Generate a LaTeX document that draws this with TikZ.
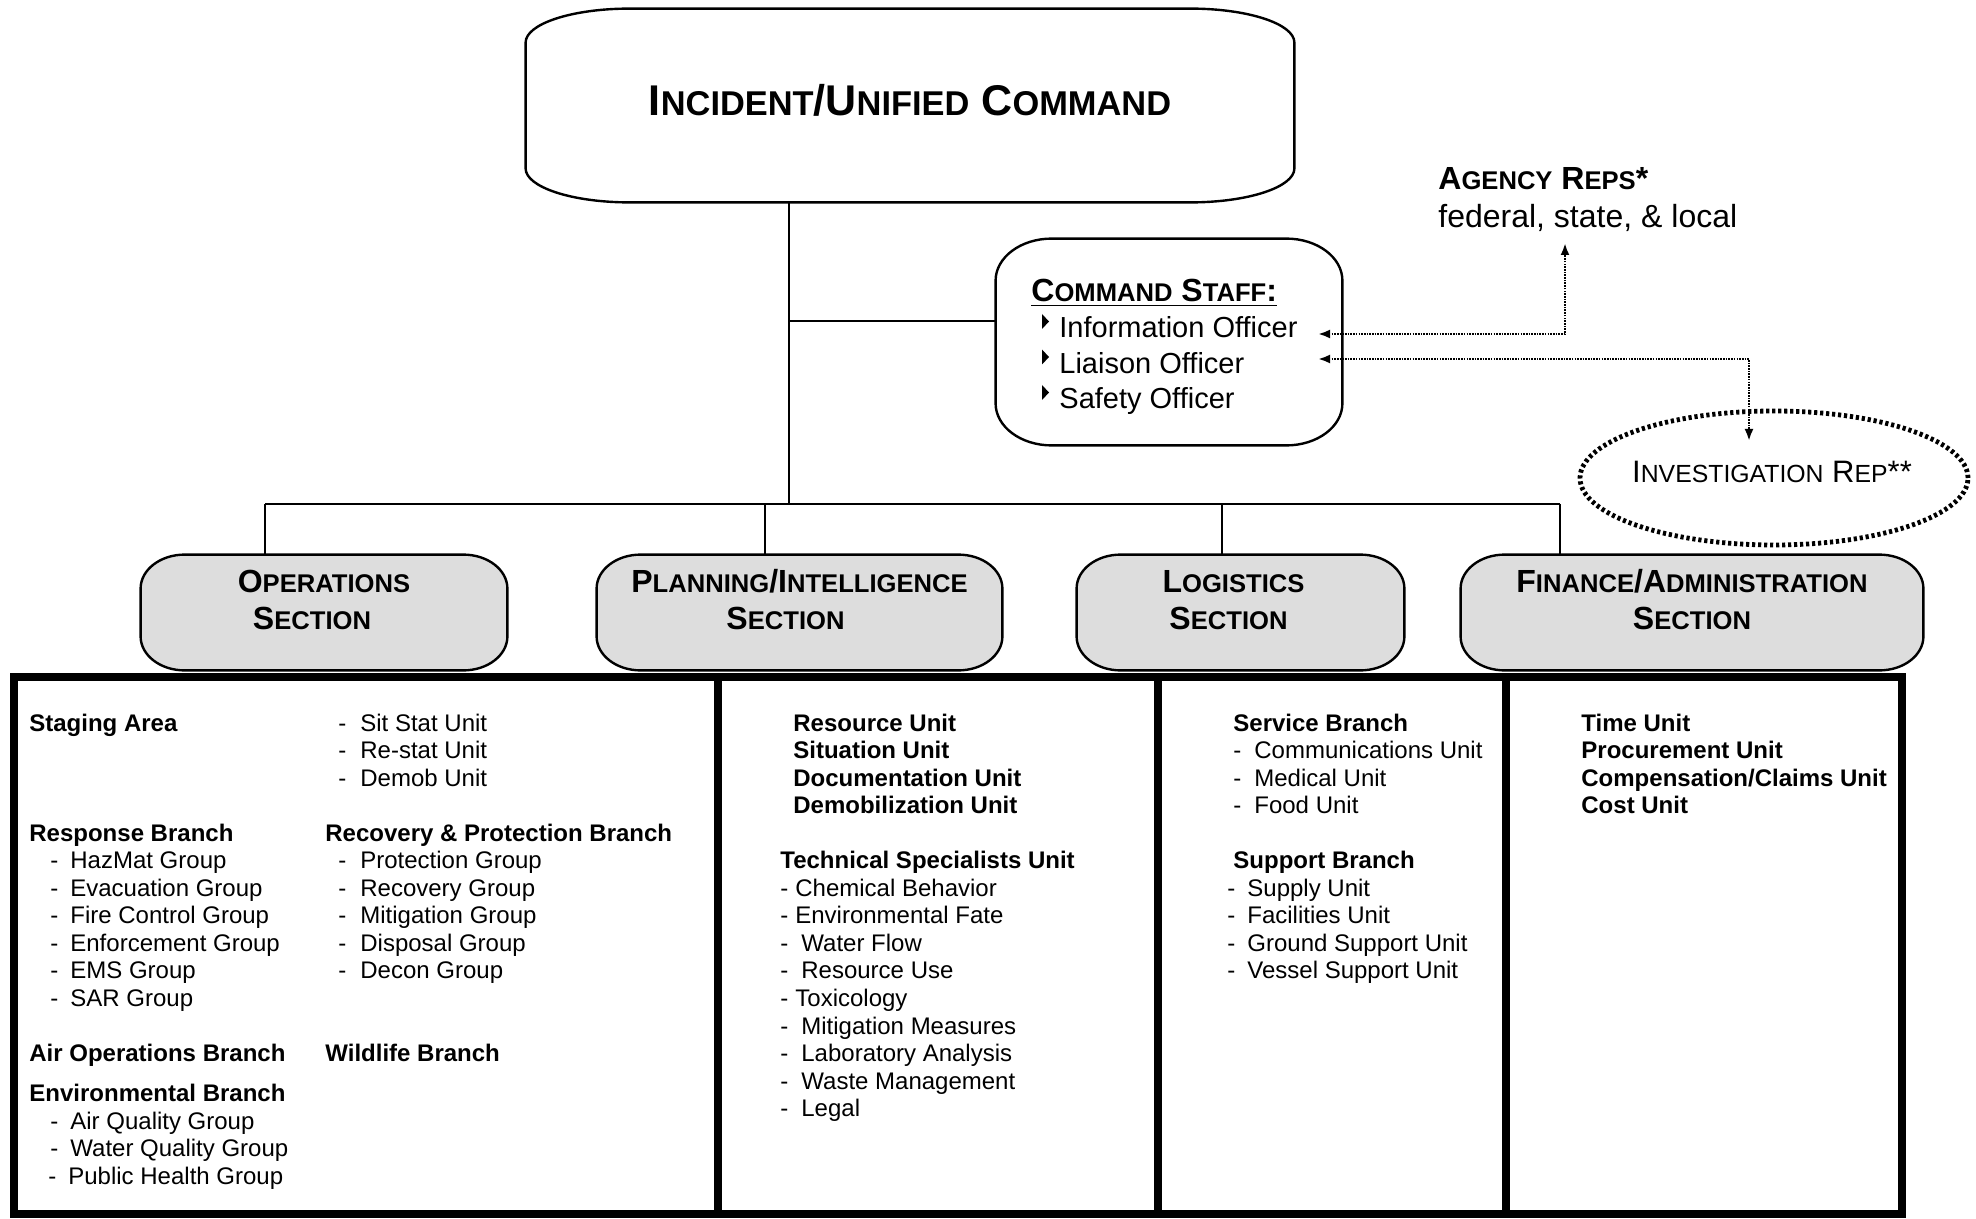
\documentclass[tikz,border=0pt]{standalone}
\usepackage{fontspec}
\setmainfont{Liberation Sans}
\usepackage{graphicx}
\usetikzlibrary{arrows.meta,calc,shapes.geometric}
\pgfdeclarelayer{bg}
\pgfsetlayers{bg,main}
\definecolor{secgray}{HTML}{DDDDDD}
\newcommand\sC[2]{#1\scalebox{0.8}{#2}}
\newcommand\itm[2]{\makebox[#1][l]{-}#2}
% elliptical-corner box around node #1, x radius #2, y radius #3, fill #4
\newcommand\ebox[4]{%
\begin{pgfonlayer}{bg}
\path[boxline,draw,fill=#4] ($(#1.north west)+(#2,0pt)$) -- ($(#1.north east)-(#2,0pt)$)
 arc[start angle=90,end angle=0,x radius=#2,y radius=#3] -- ($(#1.south east)+(0pt,#3)$)
 arc[start angle=0,end angle=-90,x radius=#2,y radius=#3] -- ($(#1.south west)+(#2,0pt)$)
 arc[start angle=270,end angle=180,x radius=#2,y radius=#3] -- ($(#1.north west)-(0pt,#3)$)
 arc[start angle=180,end angle=90,x radius=#2,y radius=#3] -- cycle;
\end{pgfonlayer}}
\tikzset{
 boxline/.style={line width=1.2pt},
 conn/.style={line width=0.9pt},
 tblline/.style={line width=3.8pt},
 txt/.style={inner sep=0pt, anchor=base west, font=\fontsize{12}{13.8}\selectfont},
 btxt/.style={inner sep=0pt, anchor=base west, font=\fontsize{12}{13.8}\selectfont\bfseries},
 sect/.style={inner sep=0pt, minimum height=57.5pt, align=center, text height=30pt, text depth=13.5pt,
   font=\fontsize{16}{18.5}\selectfont\bfseries},
 staffitem/.style={inner sep=0pt, anchor=base west, font=\fontsize{14.5}{17}\selectfont},
 dotarrow/.style={line width=1.2pt, dash pattern=on 0.8pt off 0.55pt,
   {Latex[length=6pt,width=4.5pt]}-{Latex[length=6pt,width=4.5pt]}},
}
\begin{document}
\begin{tikzpicture}[x=0.5pt,y=-0.5pt]
\useasboundingbox (0,0) rectangle (1976,1219);

% ---- Incident / Unified Command
\node[inner sep=0pt, minimum width=384pt, minimum height=96.5pt, text height=15.4pt, text depth=5pt,
  font=\fontsize{21.5}{24}\selectfont\bfseries] (ic) at (910,105.5)
  {\sC{I}{NCIDENT}/\sC{U}{NIFIED} \sC{C}{OMMAND}};
\ebox{ic}{52pt}{17pt}{white}

% ---- Command staff
\node[inner sep=0pt, minimum width=173pt, minimum height=103pt] (staff) at (1169,342) {};
\ebox{staff}{28pt}{21pt}{white}
\node[inner sep=0pt, anchor=base west, font=\fontsize{16}{18}\selectfont\bfseries] (cstitle) at (1031,302)
  {\underline{\sC{C}{OMMAND} \sC{S}{TAFF}:}};
\node[staffitem] (info) at (1059,338) {Information Officer};
\node[staffitem] (liaison) at (1059,373.5) {Liaison Officer};
\node[staffitem] (safety) at (1059,409) {Safety Officer};
\foreach \n in {info,liaison,safety}
  \fill ($(\n.base west)+(-17,-24)$) -- ++(0,15) -- ++(7,-7.5) -- cycle;

% ---- Agency reps
\node[inner sep=0pt, anchor=base west, font=\fontsize{16}{18}\selectfont\bfseries] (agency) at (1438,190)
  {\sC{A}{GENCY} \sC{R}{EPS}*};
\node[inner sep=0pt, anchor=base west, font=\fontsize{16}{18}\selectfont] (agency2) at (1438,228)
  {federal, state, \& local};

% ---- Investigation rep
\node[ellipse, inner sep=0pt, minimum width=194pt, minimum height=67pt,
  line width=2.4pt, dash pattern=on 1.6pt off 1.4pt, draw] (inv) at (1774,478) {};
\node[inner sep=0pt, anchor=base, font=\fontsize{15.5}{18}\selectfont] (invtext) at (1772,482)
  {\sC{I}{NVESTIGATION} \sC{R}{EP}**};

% ---- dotted arrows
\coordinate (t1) at (1318,334);
\coordinate (c1) at (1565,334);
\coordinate (t2) at (1565,243);
\coordinate (t3) at (1318,359);
\coordinate (c2) at (1749,359);
\coordinate (t4) at (1749,441);
\draw[dotarrow] (t1) -- (c1) -- (t2);
\draw[dotarrow] (t3) -- (c2) -- (t4);

% ---- Sections
\node[sect, minimum width=183pt] (ops) at (324,612.5) {\sC{O}{PERATIONS}\\\sC{S}{ECTION}\hspace*{12pt}};
\node[sect, minimum width=202.5pt] (plan) at (799.5,612.5) {\sC{P}{LANNING}/\sC{I}{NTELLIGENCE}\\\sC{S}{ECTION}\hspace*{14pt}};
\node[sect, minimum width=163.5pt] (logi) at (1240.5,612.5) {\sC{L}{OGISTICS}\hspace*{7pt}\\\sC{S}{ECTION}\hspace*{12pt}};
\node[sect, minimum width=231pt] (fin) at (1692,612.5) {\sC{F}{INANCE}/\sC{A}{DMINISTRATION}\\\sC{S}{ECTION}};
\foreach \n in {ops,plan,logi,fin} { \ebox{\n}{22pt}{17pt}{secgray} }

% ---- connectors
\coordinate (jn) at (789,504);
\coordinate (sj) at (789,321);
\coordinate (busL) at (265,504);
\coordinate (busR) at (1560,504);
\coordinate (dP) at (765,504);
\coordinate (dL) at (1222,504);
\draw[conn] (ic.south -| jn) -- (jn);
\draw[conn] (sj) -- (sj -| staff.west);
\draw[line width=1.2pt] (busL) -- (busR);
\draw[conn] (busL) -- (busL |- ops.north);
\draw[conn] (dP) -- (dP |- plan.north);
\draw[conn] (dL) -- (dL |- logi.north);
\draw[conn] (busR) -- (busR |- fin.north);

% ---- table
\draw[tblline] (14,677) rectangle (1902,1214);
\draw[tblline] (718,677) -- (718,1214);
\draw[tblline] (1158,677) -- (1158,1214);
\draw[tblline] (1506,677) -- (1506,1214);

% ---- Operations column
\node[btxt] (staging) at (29,731) {Staging Area};
\node[btxt] (resp) at (29,841.2) {Response Branch};
\node[txt] (r1) at (50,868.75) {\itm{10pt}{HazMat Group}};
\node[txt] (r2) at (50,896.3) {\itm{10pt}{Evacuation Group}};
\node[txt] (r3) at (50,923.85) {\itm{10pt}{Fire Control Group}};
\node[txt] (r4) at (50,951.4) {\itm{10pt}{Enforcement Group}};
\node[txt] (r5) at (50,978.95) {\itm{10pt}{EMS Group}};
\node[txt] (r6) at (50,1006.5) {\itm{10pt}{SAR Group}};
\node[btxt] (airops) at (29,1061.6) {Air Operations Branch};
\node[btxt] (envb) at (29,1101.5) {Environmental Branch};
\node[txt] (e1) at (50,1129) {\itm{10pt}{Air Quality Group}};
\node[txt] (e2) at (50,1156.5) {\itm{10pt}{Water Quality Group}};
\node[txt] (e3) at (48,1184) {\itm{10pt}{Public Health Group}};

\node[txt] (s1) at (338,731) {\itm{11pt}{Sit Stat Unit}};
\node[txt] (s2) at (338,758.55) {\itm{11pt}{Re-stat Unit}};
\node[txt] (s3) at (338,786.1) {\itm{11pt}{Demob Unit}};
\node[btxt] (recov) at (325,841.2) {Recovery \& Protection Branch};
\node[txt] (p1) at (338,868.75) {\itm{11pt}{Protection Group}};
\node[txt] (p2) at (338,896.3) {\itm{11pt}{Recovery Group}};
\node[txt] (p3) at (338,923.85) {\itm{11pt}{Mitigation Group}};
\node[txt] (p4) at (338,951.4) {\itm{11pt}{Disposal Group}};
\node[txt] (p5) at (338,978.95) {\itm{11pt}{Decon Group}};
\node[btxt] (wild) at (325,1061.6) {Wildlife Branch};

% ---- Planning column
\node[btxt] (pu1) at (793,731) {Resource Unit};
\node[btxt] (pu2) at (793,758.55) {Situation Unit};
\node[btxt] (pu3) at (793,786.1) {Documentation Unit};
\node[btxt] (pu4) at (793,813.65) {Demobilization Unit};
\node[btxt] (tech) at (780,868.75) {Technical Specialists Unit};
\node[txt] (t01) at (780,896.3) {\itm{7.5pt}{Chemical Behavior}};
\node[txt] (t02) at (780,923.85) {\itm{7.5pt}{Environmental Fate}};
\node[txt] (t03) at (780,951.4) {\itm{10.5pt}{Water Flow}};
\node[txt] (t04) at (780,978.95) {\itm{10.5pt}{Resource Use}};
\node[txt] (t05) at (780,1006.5) {\itm{7.5pt}{Toxicology}};
\node[txt] (t06) at (780,1034.05) {\itm{10.5pt}{Mitigation Measures}};
\node[txt] (t07) at (780,1061.6) {\itm{10.5pt}{Laboratory Analysis}};
\node[txt] (t08) at (780,1089.15) {\itm{10.5pt}{Waste Management}};
\node[txt] (t09) at (780,1116.7) {\itm{10.5pt}{Legal}};

% ---- Logistics column
\node[btxt] (service) at (1233,731) {Service Branch};
\node[txt] (l1) at (1233,758.55) {\itm{10.5pt}{Communications Unit}};
\node[txt] (l2) at (1233,786.1) {\itm{10.5pt}{Medical Unit}};
\node[txt] (l3) at (1233,813.65) {\itm{10.5pt}{Food Unit}};
\node[btxt] (support) at (1233,868.75) {Support Branch};
\node[txt] (l4) at (1227,896.3) {\itm{10pt}{Supply Unit}};
\node[txt] (l5) at (1227,923.85) {\itm{10pt}{Facilities Unit}};
\node[txt] (l6) at (1227,951.4) {\itm{10pt}{Ground Support Unit}};
\node[txt] (l7) at (1227,978.95) {\itm{10pt}{Vessel Support Unit}};

% ---- Finance column
\node[btxt] (f1) at (1581,731) {Time Unit};
\node[btxt] (f2) at (1581,758.55) {Procurement Unit};
\node[btxt] (f3) at (1581,786.1) {Compensation/Claims Unit};
\node[btxt] (f4) at (1581,813.65) {Cost Unit};
\end{tikzpicture}
\end{document}
